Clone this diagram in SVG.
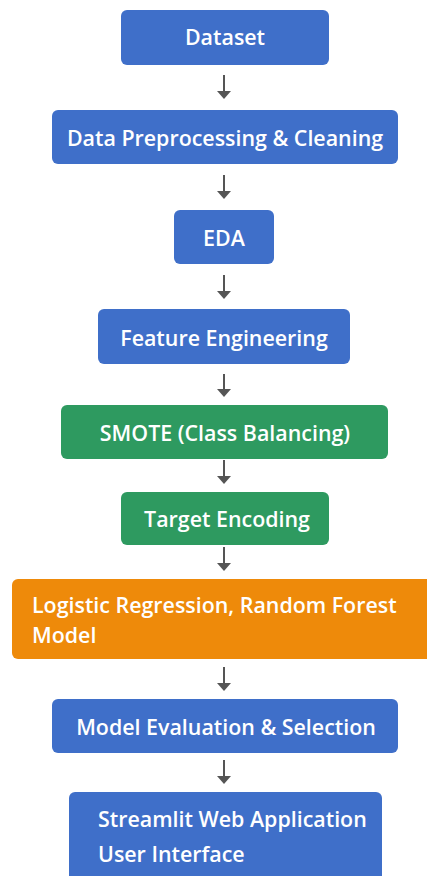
<svg xmlns="http://www.w3.org/2000/svg" width="427" height="876" viewBox="0 0 427 876">
<defs>
<style>
.blue{fill:#3f6fc9}
.green{fill:#2e9a60}
.orange{fill:#ee8a0a}
text{font-family:"Open Sans","Noto Sans",sans-serif;font-weight:600;font-size:21.4px;fill:#ffffff}
.c{text-anchor:middle}
.conn line{stroke:#555555;stroke-width:2}
.conn path{fill:#555555}
</style>
</defs>
<rect width="427" height="876" fill="#ffffff"/>
<g id="n1"><rect class="blue" x="121" y="10" width="208" height="55" rx="6"/><text class="c" x="225" y="45">Dataset</text></g>
<g id="n2"><rect class="blue" x="52" y="110" width="346" height="54" rx="6"/><text class="c" x="225" y="146">Data Preprocessing &amp; Cleaning</text></g>
<g id="n3"><rect class="blue" x="174" y="210" width="100" height="54" rx="6"/><text class="c" x="224" y="246">EDA</text></g>
<g id="n4"><rect class="blue" x="98" y="309" width="252" height="55" rx="6"/><text class="c" x="224" y="346">Feature Engineering</text></g>
<g id="n5"><rect class="green" x="61" y="405" width="327" height="54" rx="6"/><text class="c" x="225" y="441">SMOTE (Class Balancing)</text></g>
<g id="n6"><rect class="green" x="121" y="492" width="208" height="53" rx="6"/><text class="c" x="227" y="527">Target Encoding</text></g>
<g id="n7"><rect class="orange" x="12" y="579" width="430" height="80" rx="6"/><text x="32" y="613">Logistic Regression, Random Forest</text><text x="32" y="643">Model</text></g>
<g id="n8"><rect class="blue" x="52" y="699" width="346" height="54" rx="6"/><text class="c" x="226" y="735">Model Evaluation &amp; Selection</text></g>
<g id="n9"><rect class="blue" x="69" y="792" width="313" height="100" rx="6"/><text x="98" y="827">Streamlit Web Application</text><text x="98" y="862">User Interface</text></g>
<g class="conn" id="connectors">
<line x1="224" y1="75" x2="224" y2="92"/><path d="M217,91 L231,91 L224,99 Z"/>
<line x1="224" y1="175" x2="224" y2="192"/><path d="M217,191 L231,191 L224,199 Z"/>
<line x1="224" y1="275" x2="224" y2="292"/><path d="M217,291 L231,291 L224,299 Z"/>
<line x1="224" y1="374" x2="224" y2="390"/><path d="M217,389 L231,389 L224,397 Z"/>
<line x1="224" y1="460" x2="224" y2="477"/><path d="M217,476 L231,476 L224,484 Z"/>
<line x1="224" y1="547" x2="224" y2="564"/><path d="M217,563 L231,563 L224,571 Z"/>
<line x1="224" y1="667" x2="224" y2="684"/><path d="M217,683 L231,683 L224,691 Z"/>
<line x1="224" y1="760" x2="224" y2="777"/><path d="M217,776 L231,776 L224,784 Z"/>
</g>
</svg>
